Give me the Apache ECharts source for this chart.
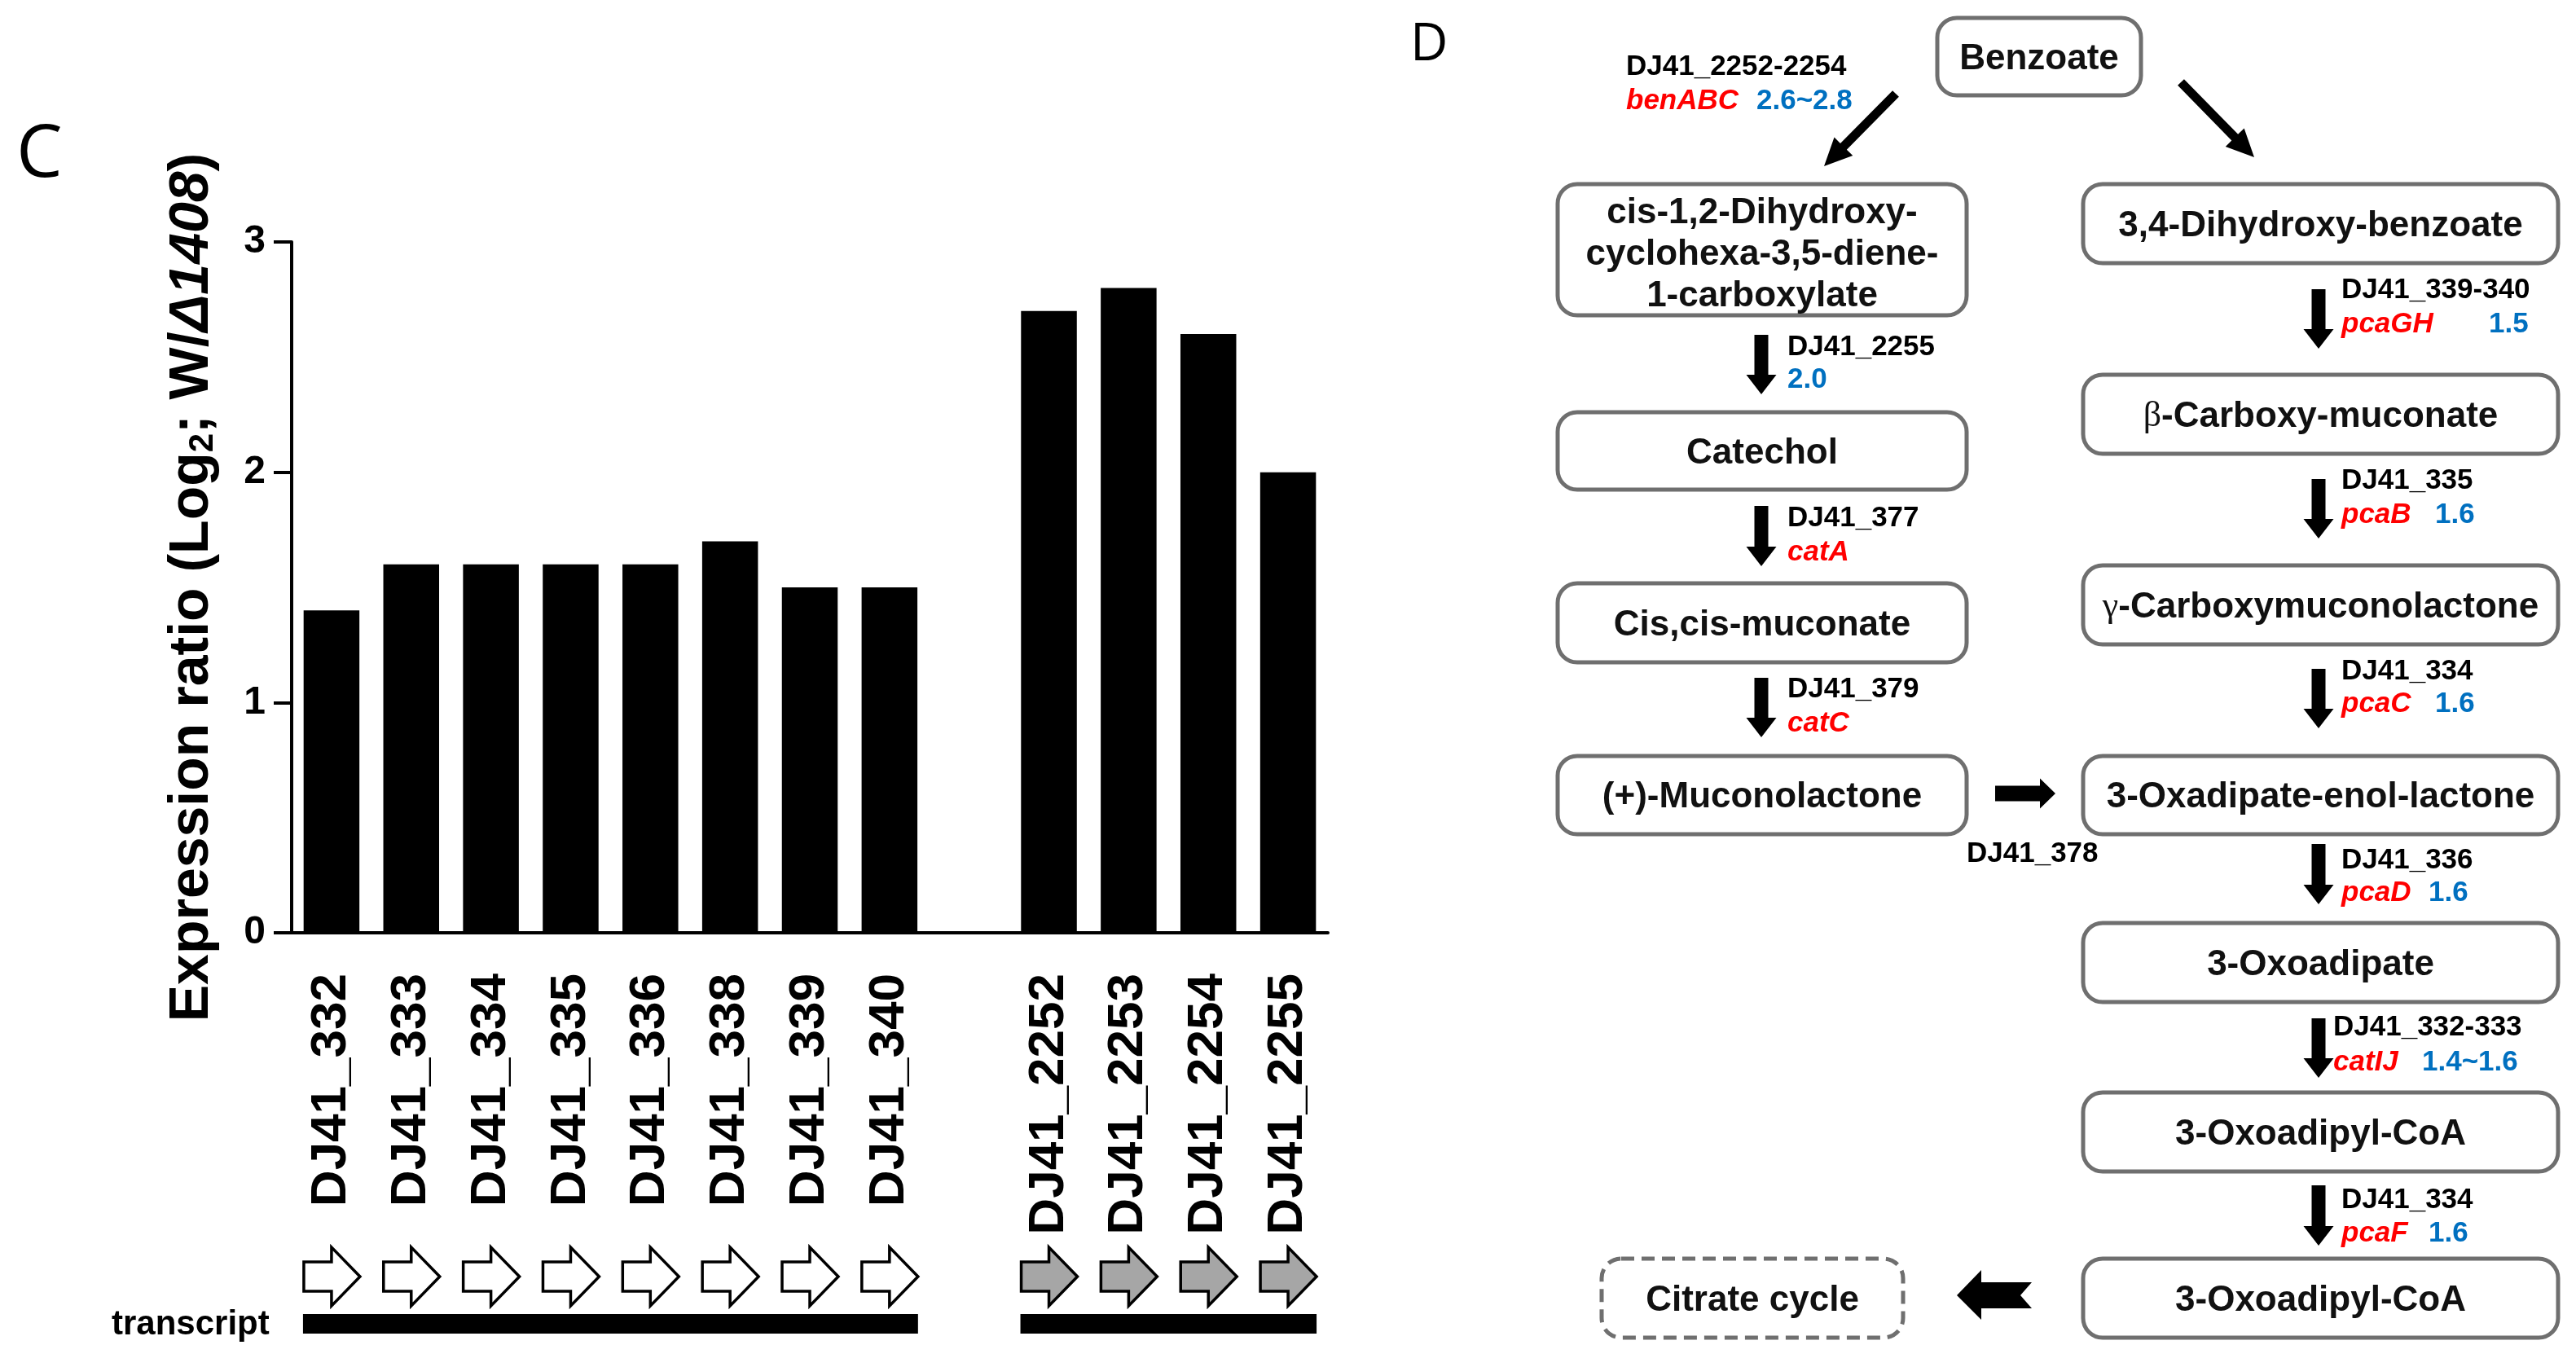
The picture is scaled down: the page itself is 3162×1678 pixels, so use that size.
<!DOCTYPE html>
<html><head><meta charset="utf-8">
<script src="https://cdn.jsdelivr.net/npm/echarts@6/dist/echarts.min.js"></script>
<style>html,body{margin:0;padding:0;background:#fff}#c{width:3162px;height:1678px}</style>
</head><body><div id="c"></div>
<script>
// ---------- Panel C data ----------
const genesA = ['DJ41_332','DJ41_333','DJ41_334','DJ41_335','DJ41_336','DJ41_338','DJ41_339','DJ41_340'];
const genesB = ['DJ41_2252','DJ41_2253','DJ41_2254','DJ41_2255'];
const ratiosA = [1.4, 1.6, 1.6, 1.6, 1.6, 1.7, 1.5, 1.5];
const ratiosB = [2.7, 2.8, 2.6, 2.0];
const yTicks = [0, 1, 2, 3];
const transcripts = [[genesA[0], genesA[genesA.length-1]], [genesB[0], genesB[genesB.length-1]]];

// ---------- Panel D content ----------
const compounds = ['Benzoate',
  'cis-1,2-Dihydroxy-\ncyclohexa-3,5-diene-\n1-carboxylate',
  '3,4-Dihydroxy-benzoate', 'Catechol', '{g|β}-Carboxy-muconate', 'Cis,cis-muconate',
  '{g|γ}-Carboxymuconolactone', '(+)-Muconolactone', '3-Oxadipate-enol-lactone',
  '3-Oxoadipate', '3-Oxoadipyl-CoA', '3-Oxoadipyl-CoA', 'Citrate cycle'];
const geneIds   = ['DJ41_2252-2254','DJ41_2255','DJ41_377','DJ41_379','DJ41_378','DJ41_339-340','DJ41_335','DJ41_334','DJ41_336','DJ41_332-333','DJ41_334'];
const geneNames = ['benABC','','catA','catC','','pcaGH','pcaB','pcaC','pcaD','catIJ','pcaF'];
const geneFold  = ['2.6~2.8','2.0','','','','1.5','1.6','1.6','1.6','1.4~1.6','1.6'];

// ---------- build ----------
const categories = genesA.concat([''], genesB);
const barData = ratiosA.concat([null], ratiosB);
const arrowData = [];
genesA.forEach(g => arrowData.push([categories.indexOf(g), 1, 0]));
genesB.forEach(g => arrowData.push([categories.indexOf(g), 1, 1]));
const transcriptData = transcripts.map(t => [categories.indexOf(t[0]), categories.indexOf(t[1])]);

const FF = '"Liberation Sans", Arial, sans-serif';

// layout of diagram (positions only)
const boxLayout = [
  [2378, 22, 250, 95],
  [1912, 226, 502, 161],
  [2557, 226, 583, 97],
  [1912, 506, 502, 95],
  [2557, 460, 583, 97],
  [1912, 716, 502, 97],
  [2557, 694, 583, 97],
  [1912, 928, 502, 96],
  [2557, 928, 583, 96],
  [2557, 1133, 583, 97],
  [2557, 1341, 583, 97],
  [2557, 1545, 583, 97],
  [1966, 1545, 370, 97]
];
// [idX, idY, nameX, nameY, foldX, foldY]
const labelLayout = [
  [1996, 82, 1996, 124, 2156, 124],
  [2194, 426, 0, 0, 2194, 466],
  [2194, 636, 2194, 678, 0, 0],
  [2194, 846, 2194, 888, 0, 0],
  [2414, 1048, 0, 0, 0, 0],
  [2874, 356, 2874, 398, 3055, 398],
  [2874, 590, 2874, 632, 2989, 632],
  [2874, 824, 2874, 864, 2989, 864],
  [2874, 1056, 2874, 1096, 2981, 1096],
  [2864, 1261, 2864, 1304, 2973, 1304],
  [2874, 1473, 2874, 1514, 2981, 1514]
];

function arrowPts(x1, y1, x2, y2, sw, hw, hl) {
  const dx = x2 - x1, dy = y2 - y1, L = Math.hypot(dx, dy);
  const ux = dx / L, uy = dy / L, nx = -uy, ny = ux;
  const bx = x2 - ux * hl, by = y2 - uy * hl;
  return [[x1 + nx*sw/2, y1 + ny*sw/2], [bx + nx*sw/2, by + ny*sw/2], [bx + nx*hw/2, by + ny*hw/2],
          [x2, y2], [bx - nx*hw/2, by - ny*hw/2], [bx - nx*sw/2, by - ny*sw/2], [x1 - nx*sw/2, y1 - ny*sw/2]];
}

const els = [];
els.push({type:'text', x:20, y:191, style:{text:'C', font:'400 90px "Open Sans", sans-serif', fill:'#000', align:'left', verticalAlign:'middle'}});
els.push({type:'text', x:1731, y:56, style:{text:'D', font:'400 64px "Open Sans", sans-serif', fill:'#000', align:'left', verticalAlign:'middle'}});
els.push({type:'text', x:137, y:1626, style:{text:'transcript', font:'bold 42px ' + FF, fill:'#000', align:'left', verticalAlign:'middle'}});

compounds.forEach((t, i) => {
  const [x, y, w, h] = boxLayout[i];
  const dashed = t === 'Citrate cycle';
  els.push({type:'rect', shape:{x:x, y:y, width:w, height:h, r:24},
    style:{fill:'#fff', stroke:'#6f6f6f', lineWidth:5, lineDash: dashed ? [16, 9] : null}, z:10});
  els.push({type:'text', x:x + w/2, y:y + h/2 + (t.indexOf('\n') >= 0 ? 6 : 3), z:11,
    style:{text:t, font:'bold 44px ' + FF, fill:'#111', align:'center', verticalAlign:'middle', lineHeight:51,
      rich:{g:{font:'44px "Liberation Serif", serif', fill:'#111'}}}});
});

geneIds.forEach((id, i) => {
  const L = labelLayout[i];
  els.push({type:'text', x:L[0], y:L[1], z:11, style:{text:id, font:'bold 35px ' + FF, fill:'#000', align:'left', verticalAlign:'middle'}});
  if (geneNames[i]) els.push({type:'text', x:L[2], y:L[3], z:11, style:{text:geneNames[i], font:'italic bold 35px ' + FF, fill:'#ff0000', align:'left', verticalAlign:'middle'}});
  if (geneFold[i]) els.push({type:'text', x:L[4], y:L[5], z:11, style:{text:geneFold[i], font:'bold 35px ' + FF, fill:'#0070c0', align:'left', verticalAlign:'middle'}});
});

// arrows
const downArrows = [[2162, 411, 484], [2162, 621, 695], [2162, 832, 905],
  [2846, 355, 428], [2846, 588, 661], [2846, 821, 894], [2846, 1036, 1110], [2846, 1250, 1323], [2846, 1455, 1529]];
downArrows.forEach(a => els.push({type:'polygon', z:12, shape:{points: arrowPts(a[0], a[1], a[0], a[2], 17, 37, 24)}, style:{fill:'#000'}}));
els.push({type:'polygon', z:12, shape:{points: arrowPts(2327, 115, 2239, 204, 11, 32, 34)}, style:{fill:'#000'}});
els.push({type:'polygon', z:12, shape:{points: arrowPts(2677, 101, 2767, 193, 11, 32, 34)}, style:{fill:'#000'}});
els.push({type:'polygon', z:12, shape:{points: arrowPts(2449, 974, 2523, 974, 19, 37, 19)}, style:{fill:'#000'}});
els.push({type:'polygon', z:12, shape:{points: [[2402,1590],[2432,1559],[2432,1574],[2494,1574],[2480,1590],[2494,1606],[2432,1606],[2432,1620]]}, style:{fill:'#000'}});

const chart = echarts.init(document.getElementById('c'));
chart.setOption({
  animation: false,
  backgroundColor: '#fff',
  textStyle: {fontFamily: FF},
  grid: [
    {left: 358, right: 1532, top: 297, bottom: 533},
    {left: 358, right: 1532, top: 1567, bottom: 53}
  ],
  xAxis: [
    {type:'category', gridIndex:0, data:categories,
      axisLine:{lineStyle:{color:'#000', width:4}},
      axisTick:{alignWithLabel:true, length:26, lineStyle:{color:'#000', width:4}, interval:(i, v) => v !== ''},
      axisLabel:{interval:0, rotate:90, fontSize:62, fontWeight:'bold', color:'#000', margin:50, fontFamily:FF}},
    {type:'category', gridIndex:1, data:categories, show:false}
  ],
  yAxis: [
    {type:'value', gridIndex:0, min:yTicks[0], max:yTicks[yTicks.length-1], interval:1,
      axisLine:{show:true, lineStyle:{color:'#000', width:4}},
      axisTick:{show:true, length:22, lineStyle:{color:'#000', width:4}},
      axisLabel:{fontSize:48, fontWeight:'bold', color:'#000', margin:32, fontFamily:FF},
      splitLine:{show:false},
      name:'{t|Expression ratio (Log}{s|2}{t|; W/}{i|Δ1408}{t|)}',
      nameLocation:'middle', nameRotate:90, nameGap:88,
      nameTextStyle:{color:'#000', fontFamily:FF, rich:{
        t:{fontSize:68, fontWeight:'bold', color:'#000', fontFamily:FF},
        s:{fontSize:42, fontWeight:'bold', color:'#000', fontFamily:FF, verticalAlign:'bottom', padding:[26,0,0,0]},
        i:{fontSize:68, fontWeight:'bold', fontStyle:'italic', color:'#000', fontFamily:FF}}}},
    {type:'value', gridIndex:1, min:0, max:1, show:false}
  ],
  series: [
    {type:'bar', xAxisIndex:0, yAxisIndex:0, data:barData, barWidth:'70%', itemStyle:{color:'#000'}},
    {type:'custom', xAxisIndex:1, yAxisIndex:1, data:arrowData, clip:false,
      renderItem:(params, api) => {
        const c = api.coord([api.value(0), api.value(1)]);
        const pts = [[-34,-18],[0,-18],[0,-36],[35,0],[0,36],[0,18],[-34,18]].map(p => [c[0]+p[0], c[1]+p[1]]);
        return {type:'polygon', shape:{points:pts}, style:{fill: api.value(2) ? '#a6a6a6' : '#fff', stroke:'#000', lineWidth:3.5}};
      }},
    {type:'custom', xAxisIndex:1, yAxisIndex:1, data:transcriptData, clip:false,
      renderItem:(params, api) => {
        const p1 = api.coord([api.value(0), 0]);
        const p2 = api.coord([api.value(1), 0]);
        return {type:'rect', shape:{x:p1[0]-35, y:p1[1]-12, width:p2[0]-p1[0]+70, height:24}, style:{fill:'#000'}};
      }}
  ],
  graphic: {elements: els}
});
</script></body></html>
